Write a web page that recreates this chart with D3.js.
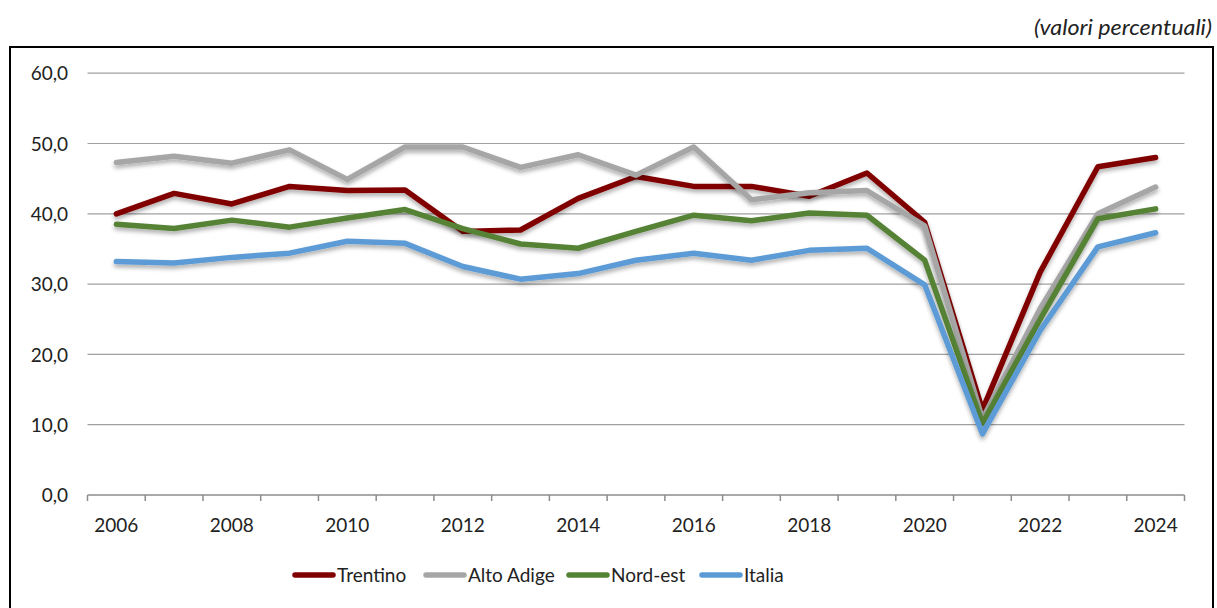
<!DOCTYPE html>
<html><head><meta charset="utf-8">
<script src="https://cdn.jsdelivr.net/npm/d3@7"></script>
<style>
html,body{margin:0;padding:0;background:#fff;}
text{font-family:Lato,"Open Sans",sans-serif;fill:#222;}
</style></head>
<body>
<svg id="chart" width="1217" height="608"></svg>
<script>
const years = [2006,2007,2008,2009,2010,2011,2012,2013,2014,2015,2016,2017,2018,2019,2020,2021,2022,2023,2024];
const yTicks = [0,10,20,30,40,50,60];
const xTickLabels = [2006,2008,2010,2012,2014,2016,2018,2020,2022,2024];
const trentino  = [40.0,42.9,41.4,43.9,43.3,43.4,37.5,37.7,42.2,45.3,43.9,43.9,42.5,45.8,38.8,12.1,31.7,46.7,48.0];
const altoAdige = [47.3,48.2,47.2,49.1,44.9,49.5,49.5,46.6,48.4,45.5,49.5,42.0,43.0,43.3,38.3,10.8,26.5,40.0,43.8];
const nordEst   = [38.5,37.9,39.1,38.1,39.4,40.6,37.9,35.7,35.1,37.5,39.8,39.0,40.1,39.8,33.4,10.2,25.0,39.3,40.7];
const italia    = [33.2,33.0,33.8,34.4,36.1,35.8,32.5,30.7,31.5,33.4,34.4,33.4,34.8,35.1,29.9, 8.7,23.4,35.3,37.3];
const seriesNames = ["Trentino","Alto Adige","Nord-est","Italia"];
const seriesColors = ["#800000","#A6A6A6","#548235","#5B9BD5"];
const seriesData = [trentino, altoAdige, nordEst, italia];

const svg = d3.select("#chart");
const pL = 87.5, pR = 1184.5, pT = 73.2, pB = 495;

// frame
svg.append("rect").attr("x",10).attr("y",47).attr("width",1203).attr("height",575)
  .attr("fill","none").attr("stroke","#000").attr("stroke-width",2);

svg.append("text").attr("x",1212).attr("y",35).attr("text-anchor","end")
  .style("font-style","italic").style("font-size","21px")
  .attr("textLength",178).attr("lengthAdjust","spacingAndGlyphs")
  .text("(valori percentuali)");

const defs = svg.append("defs");
const f = defs.append("filter").attr("id","sh").attr("x","-5%").attr("y","-20%").attr("width","110%").attr("height","140%");
f.append("feDropShadow").attr("dx",0).attr("dy",3).attr("stdDeviation",2.2)
  .attr("flood-color","#000").attr("flood-opacity",0.32);

const x = d3.scaleBand().domain(years).range([pL,pR]);
const y = d3.scaleLinear().domain([0,60]).range([pB,pT]);

// gridlines
svg.append("g").selectAll("line").data(yTicks.filter(d=>d>0)).join("line")
  .attr("x1",pL).attr("x2",pR).attr("y1",d=>y(d)).attr("y2",d=>y(d))
  .attr("stroke","#A0A0A0").attr("stroke-width",1.2);

// y axis labels
const yAxis = d3.axisLeft(y).tickValues(yTicks).tickSize(0).tickPadding(0)
  .tickFormat(d=>d3.format(".1f")(d).replace(".",","));
const gy = svg.append("g").attr("transform",`translate(68,0)`).call(yAxis);
gy.select(".domain").remove();
gy.selectAll("text").style("font-size","19px").attr("fill","#222").attr("dy","0.35em")
  .style("font-family","Lato, 'Open Sans', sans-serif");

// x axis
const gx = svg.append("g").attr("transform",`translate(0,${pB})`);
gx.append("line").attr("x1",pL).attr("x2",pR).attr("stroke","#8C8C8C").attr("stroke-width",1.5);
const bounds = years.map(d=>x(d)).concat([pR]);
gx.selectAll("line.tk").data(bounds).join("line").attr("class","tk")
  .attr("x1",d=>d).attr("x2",d=>d).attr("y1",0).attr("y2",6)
  .attr("stroke","#8C8C8C").attr("stroke-width",1.5);
gx.selectAll("text").data(xTickLabels).join("text")
  .attr("x",d=>x(d)+x.bandwidth()/2).attr("y",37).attr("text-anchor","middle")
  .style("font-size","19px").text(d=>d);

// lines
const line = d3.line().x((d,i)=>x(years[i])+x.bandwidth()/2).y(d=>y(d));
const lg = svg.append("g");
seriesData.forEach((s,k)=>{
  lg.append("path").datum(s).attr("d",line).attr("fill","none")
    .attr("stroke",seriesColors[k]).attr("stroke-width",5.5)
    .attr("stroke-linejoin","round").attr("stroke-linecap","round")
    .attr("filter","url(#sh)");
});

// legend
const legX = [293,424,567,700];
const leg = svg.append("g");
seriesNames.forEach((n,k)=>{
  leg.append("line").attr("x1",legX[k]+2).attr("x2",legX[k]+40).attr("y1",575).attr("y2",575)
    .attr("stroke",seriesColors[k]).attr("stroke-width",5.5).attr("stroke-linecap","round");
  leg.append("text").attr("x",legX[k]+44).attr("y",575).attr("dy","0.35em")
    .style("font-size","19px").text(n);
});
</script>
</body></html>
